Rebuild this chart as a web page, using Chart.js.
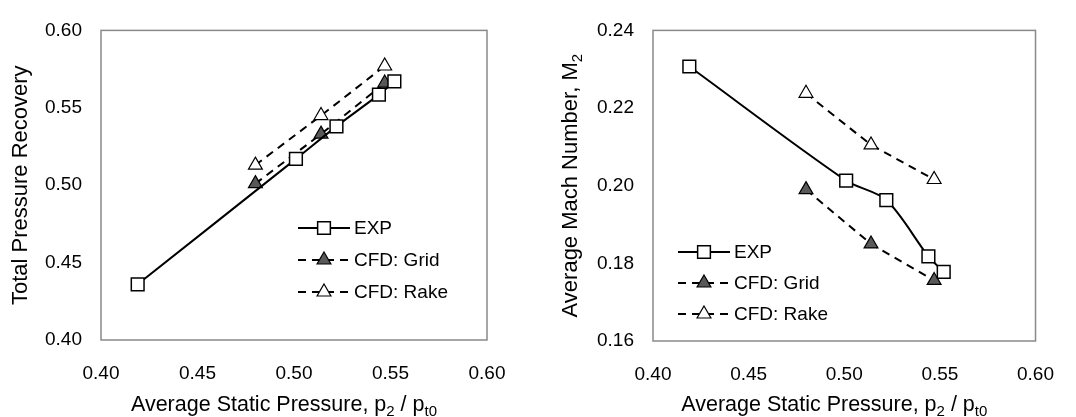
<!DOCTYPE html>
<html>
<head>
<meta charset="utf-8">
<script src="https://cdn.jsdelivr.net/npm/chart.js@4.4.0/dist/chart.umd.min.js"></script>
<style>
  html, body { margin: 0; padding: 0; background: #fff; }
  .wrap { display: flex; width: 1076px; height: 417px; }
  canvas { display: block; }
</style>
</head>
<body>
<div class="wrap">
  <canvas id="recoveryChart" width="538" height="417"></canvas>
  <canvas id="machChart" width="538" height="417"></canvas>
</div>
<script>
// Values
const seriesNames = ['EXP', 'CFD: Grid', 'CFD: Rake'];

const pressureExp = [0.419, 0.501, 0.522, 0.544, 0.552];
const pressureCfd = [0.480, 0.514, 0.547];

const recoveryExp = [0.436, 0.517, 0.538, 0.5585, 0.567];
const recoveryGrid = [0.501, 0.533, 0.566];
const recoveryRake = [0.513, 0.545, 0.577];

const machExp = [0.2307, 0.2013, 0.1963, 0.1818, 0.1778];
const machGrid = [0.199, 0.185, 0.1756];
const machRake = [0.2238, 0.2105, 0.2016];

const xTickValues = [0.40, 0.45, 0.50, 0.55, 0.60];
const recoveryTickValues = [0.40, 0.45, 0.50, 0.55, 0.60];
const machTickValues = [0.16, 0.18, 0.20, 0.22, 0.24];

const FONT = '"Liberation Sans", Arial, sans-serif';
const GRID_FILL = '#595959';

function toPoints(xs, ys) {
    return xs.map((x, i) => ({ x: x, y: ys[i] }));
}

// Grey frame round the plot area
const framePlugin = {
    id: 'frame',
    beforeDatasetsDraw(chart) {
        const a = chart.chartArea;
        const ctx = chart.ctx;
        ctx.save();
        ctx.strokeStyle = '#898989';
        ctx.lineWidth = 1.5;
        ctx.strokeRect(a.left, a.top, a.right - a.left, a.bottom - a.top);
        ctx.restore();
    }
};

// Draw a list of text runs, some of them subscript
function drawRuns(ctx, runs, cx, cy, size) {
    const subSize = Math.round(size * 0.68);
    let total = 0;
    runs.forEach(r => {
        ctx.font = (r.sub ? subSize : size) + 'px ' + FONT;
        r.w = ctx.measureText(r.t).width;
        total += r.w;
    });
    let x = cx - total / 2;
    const base = cy + size * 0.36;
    runs.forEach(r => {
        ctx.font = (r.sub ? subSize : size) + 'px ' + FONT;
        ctx.fillText(r.t, x, r.sub ? base + size * 0.25 : base);
        x += r.w;
    });
}

// Axis titles with subscripts
const titlesPlugin = {
    id: 'axisTitles',
    afterDraw(chart, args, opts) {
        const a = chart.chartArea;
        const ctx = chart.ctx;
        ctx.save();
        ctx.fillStyle = '#000';
        ctx.textAlign = 'left';
        ctx.textBaseline = 'alphabetic';
        drawRuns(ctx, opts.xRuns, (a.left + a.right) / 2 - 10, opts.xTitleY, opts.xSize);
        ctx.translate(opts.yTitleX, (a.top + a.bottom) / 2);
        ctx.rotate(-Math.PI / 2);
        drawRuns(ctx, opts.yRuns, 0, 0, opts.ySize);
        ctx.restore();
    }
};

// Legend drawn inside the plot area
const insideLegendPlugin = {
    id: 'insideLegend',
    afterDatasetsDraw(chart, args, opts) {
        const ctx = chart.ctx;
        ctx.save();
        chart.data.datasets.forEach((ds, i) => {
            const y = opts.y + i * opts.rowGap;
            ctx.strokeStyle = '#000';
            ctx.lineWidth = 2;
            ctx.setLineDash(ds.borderDash || []);
            ctx.beginPath();
            ctx.moveTo(opts.x, y);
            ctx.lineTo(opts.x + 52, y);
            ctx.stroke();
            ctx.setLineDash([]);
            ctx.fillStyle = ds.pointBackgroundColor;
            ctx.strokeStyle = ds.pointBorderColor;
            ctx.lineWidth = ds.pointBorderWidth;
            Chart.helpers.drawPoint(ctx, {
                pointStyle: ds.pointStyle,
                radius: ds.pointRadius,
                borderWidth: ds.pointBorderWidth,
                rotation: 0
            }, opts.x + 26, y);
            ctx.fillStyle = '#000';
            ctx.font = opts.size + 'px ' + FONT;
            ctx.textBaseline = 'middle';
            ctx.fillText(ds.label, opts.x + 56, y + 1);
        });
        ctx.restore();
    }
};

function buildDatasets(exp, grid, rake, xsExp, xsCfd) {
    return [{
        label: seriesNames[0],
        data: toPoints(xsExp, exp),
        borderColor: '#000',
        borderWidth: 2,
        tension: 0.3,
        pointStyle: 'rect',
        pointRadius: 9,
        pointBorderWidth: 1.5,
        pointBackgroundColor: '#fff',
        pointBorderColor: '#000'
    }, {
        label: seriesNames[1],
        data: toPoints(xsCfd, grid),
        borderColor: '#000',
        borderWidth: 2,
        borderDash: [8, 6],
        tension: 0,
        pointStyle: 'triangle',
        pointRadius: 8,
        pointBorderWidth: 1.2,
        pointBackgroundColor: GRID_FILL,
        pointBorderColor: '#000'
    }, {
        label: seriesNames[2],
        data: toPoints(xsCfd, rake),
        borderColor: '#000',
        borderWidth: 2,
        borderDash: [8, 6],
        tension: 0,
        pointStyle: 'triangle',
        pointRadius: 8,
        pointBorderWidth: 1.2,
        pointBackgroundColor: '#fff',
        pointBorderColor: '#000'
    }];
}

function makeChart(id, cfg) {
    const ctx = document.getElementById(id).getContext('2d');
    return new Chart(ctx, {
        type: 'line',
        data: { datasets: cfg.datasets },
        options: {
            responsive: false,
            animation: false,
            layout: { padding: cfg.padding },
            scales: {
                x: {
                    type: 'linear',
                    min: 0.40,
                    max: 0.60,
                    afterBuildTicks: scale => { scale.ticks = xTickValues.map(v => ({ value: v })); },
                    afterFit: scale => { scale.height = cfg.xHeight; },
                    grid: { display: false, drawTicks: false },
                    border: { display: false },
                    ticks: {
                        color: '#000',
                        padding: 22,
                        maxRotation: 0,
                        font: { family: FONT, size: 19 },
                        callback: v => v.toFixed(2)
                    }
                },
                y: {
                    type: 'linear',
                    min: cfg.yTicks[0],
                    max: cfg.yTicks[cfg.yTicks.length - 1],
                    afterBuildTicks: scale => { scale.ticks = cfg.yTicks.map(v => ({ value: v })); },
                    afterFit: scale => { scale.width = cfg.yWidth; },
                    grid: { display: false, drawTicks: false },
                    border: { display: false },
                    ticks: {
                        color: '#000',
                        padding: 19,
                        font: { family: FONT, size: 19 },
                        callback: v => v.toFixed(2)
                    }
                }
            },
            plugins: {
                legend: { display: false },
                tooltip: { enabled: false },
                axisTitles: {
                    xSize: 21.5,
                    ySize: 22,
                    xTitleY: 403,
                    yTitleX: cfg.yTitleX,
                    xRuns: [{ t: 'Average Static Pressure, p' }, { t: '2', sub: true }, { t: ' / p' }, { t: 't0', sub: true }],
                    yRuns: cfg.yRuns
                },
                insideLegend: cfg.legend
            }
        },
        plugins: [framePlugin, titlesPlugin, insideLegendPlugin]
    });
}

makeChart('recoveryChart', {
    datasets: buildDatasets(recoveryExp, recoveryGrid, recoveryRake, pressureExp, pressureCfd),
    padding: { left: 0, right: 51, top: 19, bottom: 0 },
    xHeight: 77,
    yWidth: 101,
    yTicks: recoveryTickValues,
    yTitleX: 19,
    yRuns: [{ t: 'Total Pressure Recovery' }],
    legend: { x: 298, y: 228, rowGap: 32, size: 19 }
});

makeChart('machChart', {
    datasets: buildDatasets(machExp, machGrid, machRake, pressureExp, pressureCfd),
    padding: { left: 0, right: 34, top: 20, bottom: 0 },
    xHeight: 76,
    yWidth: 115,
    yTicks: machTickValues,
    yTitleX: 31,
    yRuns: [{ t: 'Average Mach Number, M' }, { t: '2', sub: true }],
    legend: { x: 140, y: 252, rowGap: 31, size: 19 }
});
</script>
</body>
</html>
